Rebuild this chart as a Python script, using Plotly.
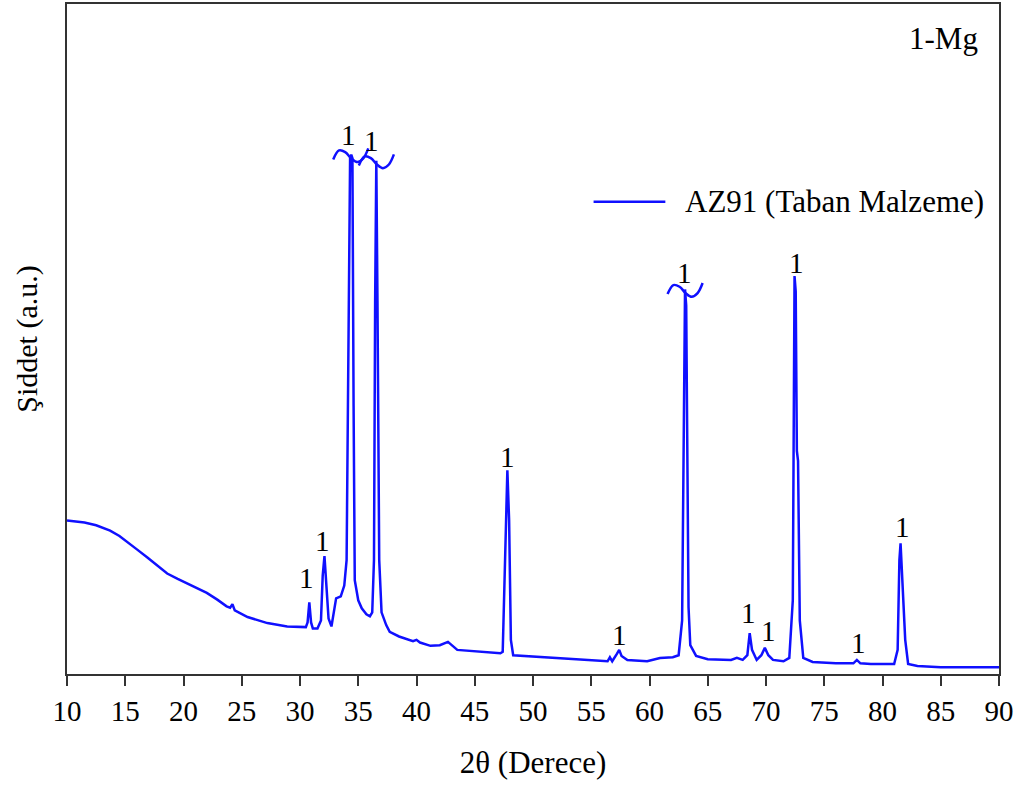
import plotly.graph_objects as go

# ---- data (2θ in degrees, intensity in arbitrary units) ----
two_theta = [
    10.0, 11.5, 12.5, 13.7, 14.5, 15.2, 16.0, 16.9, 17.8, 18.6,
    19.5, 20.3, 21.2, 22.0, 22.9, 23.7, 24.0, 24.2, 24.4, 25.5,
    27.2, 28.9, 30.5, 30.65, 30.8, 30.95, 31.1, 31.5, 31.8, 31.95,
    32.1, 32.25, 32.45, 32.7, 32.9, 33.1, 33.5, 33.8, 34.0, 34.2,
    34.3, 34.4, 34.5, 34.6, 34.7, 35.0, 35.3, 35.7, 36.0, 36.2,
    36.35, 36.45, 36.55, 36.65, 36.8, 37.0, 37.2, 37.4, 37.7, 38.5,
    39.7, 40.0, 40.3, 41.2, 42.0, 42.7, 43.5, 45.5, 47.2, 47.4,
    47.6, 47.8, 47.95, 48.1, 48.3, 51.2, 54.0, 56.4, 56.6, 56.8,
    57.2, 57.4, 57.6, 58.1, 59.8, 60.9, 62.0, 62.5, 62.8, 62.95,
    63.05, 63.15, 63.25, 63.35, 63.5, 64.0, 65.0, 66.0, 67.0, 67.5,
    68.0, 68.4, 68.6, 68.8, 69.2, 69.6, 69.9, 70.2, 70.6, 71.5,
    72.0, 72.3, 72.45, 72.55, 72.65, 72.75, 72.9, 73.2, 74.0, 76.0,
    77.5, 77.8, 78.1, 79.0, 81.0, 81.3, 81.45, 81.55, 81.7, 81.8,
    81.95, 82.2, 83.0, 85.0, 88.0, 90.0,
]
intensity = [
    22.9, 22.6, 22.2, 21.4, 20.6, 19.6, 18.6, 17.4, 16.2, 15.0,
    14.2, 13.5, 12.8, 12.1, 11.1, 10.1, 9.9, 10.4, 9.5, 8.5,
    7.6, 7.1, 7.0, 7.7, 10.7, 7.7, 6.8, 6.8, 8.0, 14.7,
    17.6, 14.0, 8.3, 7.1, 9.5, 11.3, 11.6, 13.2, 17.0, 55.7,
    77.0, 77.5, 77.0, 40.0, 14.0, 11.0, 9.8, 8.9, 8.6, 9.2,
    17.0, 55.7, 76.6, 55.7, 17.0, 9.2, 8.3, 7.3, 6.3, 5.6,
    4.9, 5.1, 4.7, 4.2, 4.3, 4.8, 3.6, 3.3, 3.1, 3.3,
    17.0, 30.4, 22.9, 5.1, 2.8, 2.5, 2.2, 1.9, 2.5, 1.9,
    3.0, 3.6, 2.7, 2.1, 1.9, 2.4, 2.5, 2.8, 8.0, 40.8,
    57.4, 55.0, 30.0, 10.0, 4.3, 2.7, 2.2, 2.1, 2.1, 2.4,
    2.1, 2.8, 6.1, 3.6, 2.1, 2.8, 3.9, 2.8, 2.1, 1.9,
    2.4, 11.0, 59.4, 57.1, 33.3, 31.8, 8.0, 2.4, 1.8, 1.6,
    1.6, 2.1, 1.6, 1.5, 1.5, 3.6, 17.0, 19.5, 14.0, 11.0,
    5.1, 1.5, 1.2, 1.0, 1.0, 1.0,
]

# peak labels ("1" = Mg phase)
label_x = [30.6, 31.9, 34.2, 36.1, 47.8, 57.4, 63.0, 68.5, 70.2, 72.6, 77.9, 81.7]
label_y = [14.3, 19.9, 80.5, 79.6, 32.4, 5.8, 59.8, 9.1, 6.4, 61.3, 4.6, 21.9]
label_text = ["1"] * len(label_x)

# truncated (broken) peaks: centre of the break mark
break_x = [34.4, 36.6, 63.1]
break_y = [77.5, 76.6, 57.4]

# break-mark glyph outline (offsets from the break centre)
BREAK_DX = [-1.55, -1.05, -0.52, 0.0, 0.52, 1.03, 1.46]
BREAK_DY = [-0.7, 0.65, 0.4, -0.55, -1.1, -0.55, 0.95]

SERIES_NAME = "AZ91 (Taban Malzeme)"

BLUE = "#1010ff"
AXIS = "#333333"
FONT = "Liberation Serif"

fig = go.Figure()
fig.add_trace(go.Scatter(
    x=two_theta, y=intensity, mode="lines",
    line=dict(color=BLUE, width=2.5),
    name=SERIES_NAME, showlegend=False,
))

for bx, by in zip(break_x, break_y):
    fig.add_trace(go.Scatter(
        x=[bx + d for d in BREAK_DX], y=[by + d for d in BREAK_DY],
        mode="lines", line=dict(color=BLUE, width=2.5, shape="spline"),
        showlegend=False, hoverinfo="skip",
    ))

for lx, ly, lt in zip(label_x, label_y, label_text):
    fig.add_annotation(x=lx, y=ly, text=lt, showarrow=False,
                       font=dict(family=FONT, size=29, color="black"),
                       xanchor="center", yanchor="middle")

# panel tag
fig.add_annotation(xref="paper", yref="paper", x=0.980, y=0.948, text="1-Mg",
                   showarrow=False, xanchor="right", yanchor="middle",
                   font=dict(family=FONT, size=31, color="black"))

# legend (drawn by hand so the sample line has the reference's length)
fig.add_shape(type="line", xref="paper", yref="paper",
              x0=0.565, x1=0.642, y0=0.705, y1=0.705,
              line=dict(color=BLUE, width=2.5))
fig.add_annotation(xref="paper", yref="paper", x=0.661, y=0.705, text=SERIES_NAME,
                   showarrow=False, xanchor="left", yanchor="middle",
                   font=dict(family=FONT, size=31, color="black"))

fig.update_layout(
    width=1021, height=787,
    margin=dict(l=67, r=22, t=2, b=113),
    paper_bgcolor="white", plot_bgcolor="white",
    font=dict(family=FONT, size=30, color="black"),
    showlegend=False,
    xaxis=dict(
        range=[10, 90], dtick=5, tick0=10,
        ticks="outside", ticklen=10, tickwidth=2, tickcolor=AXIS,
        showline=True, linewidth=2, linecolor=AXIS, mirror=True,
        showgrid=False, zeroline=False,
        tickfont=dict(family=FONT, size=29, color="black"),
        title=dict(text="2θ (Derece)", standoff=26,
                   font=dict(family=FONT, size=31, color="black")),
        automargin=True,
    ),
    yaxis=dict(
        range=[0, 100], showticklabels=False, ticks="",
        showline=True, linewidth=2, linecolor=AXIS, mirror=True,
        showgrid=False, zeroline=False,
        title=dict(text="Şiddet (a.u.)", standoff=19,
                   font=dict(family=FONT, size=30, color="black")),
        automargin=True,
    ),
)

fig.write_html("out.html")
